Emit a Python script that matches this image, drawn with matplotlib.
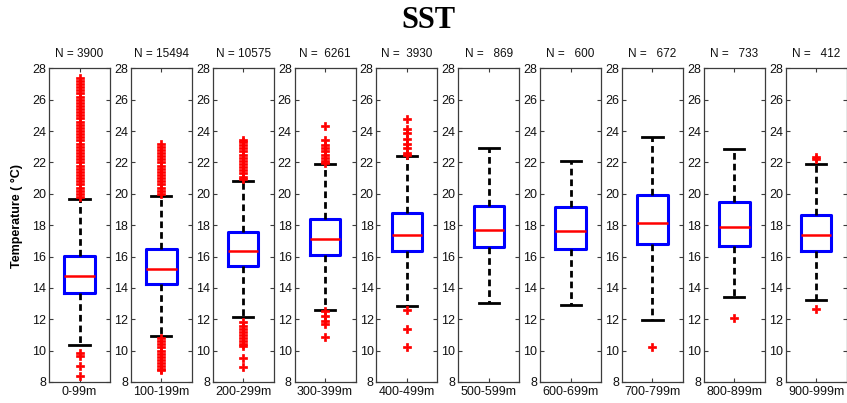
import matplotlib
matplotlib.use("Agg")
import matplotlib.pyplot as plt

plt.rcParams['font.family'] = ['Liberation Sans', 'DejaVu Sans']

# Depth bins and sample counts
depth_bins = ["0-99m", "100-199m", "200-299m", "300-399m", "400-499m",
              "500-599m", "600-699m", "700-799m", "800-899m", "900-999m"]
counts = ["3900", "15494", "10575", " 6261", " 3930", "  869", "  600", "  672", "  733", "  412"]

# Box statistics per depth bin (deg C)
medians = [14.77, 15.23, 16.38, 17.09, 17.40, 17.68, 17.64, 18.11, 17.90, 17.38]
q1 = [13.66, 14.23, 15.42, 16.10, 16.38, 16.62, 16.45, 16.77, 16.66, 16.38]
q3 = [16.05, 16.47, 17.57, 18.38, 18.79, 19.23, 19.13, 19.94, 19.49, 18.64]
whisker_low = [10.38, 10.94, 12.15, 12.62, 12.85, 13.04, 12.90, 11.98, 13.43, 13.21]
whisker_high = [19.66, 19.87, 20.83, 21.87, 22.38, 22.89, 22.06, 23.64, 22.87, 21.91]

# Outlying observations per depth bin (deg C)
outliers_0 = [19.8, 20.0, 20.2, 20.4, 20.6, 20.8, 21.0, 21.2, 21.4, 21.6, 21.8, 22.0,
              22.2, 22.4, 22.6, 22.8, 23.0, 23.2, 23.4, 23.6, 23.8, 24.0, 24.2, 24.4,
              24.6, 24.8, 25.0, 25.2, 25.4, 25.6, 25.8, 26.0, 26.2, 26.4, 26.6, 26.8,
              27.0, 27.2, 27.4, 9.85, 9.65, 9.0, 8.4]
outliers_1 = [20.0, 20.2, 20.4, 20.6, 20.8, 21.0, 21.2, 21.4, 21.6, 21.8, 22.0, 22.2,
              22.4, 22.6, 22.8, 23.0, 23.2, 10.8, 10.6, 10.4, 10.2, 10.0, 9.8, 9.6,
              9.4, 9.2, 9.0, 8.8, 8.75]
outliers_2 = [20.95, 21.1, 21.3, 21.5, 21.7, 21.9, 22.1, 22.3, 22.5, 22.7, 22.9, 23.1,
              23.3, 23.4, 11.8, 11.6, 11.4, 11.2, 11.0, 10.8, 10.6, 10.4, 10.3, 9.5, 8.95]
outliers_3 = [21.95, 22.1, 22.3, 22.5, 22.7, 22.9, 23.1, 23.4, 24.3,
              12.5, 12.2, 11.9, 11.7, 10.9]
outliers_4 = [22.5, 22.6, 22.9, 23.2, 23.5, 23.85, 24.15, 24.75, 12.6, 11.4, 10.2]
outliers_5 = []
outliers_6 = []
outliers_7 = [10.2]
outliers_8 = [12.1]
outliers_9 = [22.35, 22.2, 12.65]
outliers = [outliers_0, outliers_1, outliers_2, outliers_3, outliers_4,
            outliers_5, outliers_6, outliers_7, outliers_8, outliers_9]

y_ticks = [8, 10, 12, 14, 16, 18, 20, 22, 24, 26, 28]

W, H = 847, 403
fig = plt.figure(figsize=(W / 100, H / 100), dpi=100)

left0, step, width = 49, 81.85, 61
bottom, top = 21, 334.7
spine_color = "#3c3c3c"

for i, name in enumerate(depth_bins):
    ax = fig.add_axes([(left0 + step * i) / W, bottom / H, width / W, (top - bottom) / H])
    stats = [dict(med=medians[i], q1=q1[i], q3=q3[i],
                  whislo=whisker_low[i], whishi=whisker_high[i],
                  fliers=outliers[i], label=name)]
    ax.bxp(stats, positions=[1], widths=0.5, capwidths=0.33,
           boxprops=dict(color="#0000ff", linewidth=2.2),
           medianprops=dict(color="#ff0000", linewidth=1.8),
           whiskerprops=dict(color="black", linewidth=2.0, linestyle=(0, (2.4, 1.45))),
           capprops=dict(color="black", linewidth=2.0),
           flierprops=dict(marker="P", markersize=5.5, markerfacecolor="#ff0000",
                           markeredgecolor="#ff0000", markeredgewidth=0.5,
                           linestyle="none"))
    ax.set_xlim(0.5, 1.5)
    ax.set_ylim(8, 28)
    ax.set_yticks(y_ticks)
    ax.set_xticks([1])
    ax.set_xticklabels([name])
    ax.tick_params(axis="both", direction="in", length=3, width=0.8,
                   color=spine_color, labelsize=9, labelcolor="#111111")
    ax.tick_params(axis="y", right=True, pad=2)
    ax.tick_params(axis="x", top=True, pad=3)
    for s in ax.spines.values():
        s.set_color(spine_color)
        s.set_linewidth(0.9)
    ax.text(0.5, 1 + 14 / (top - bottom), "N = " + counts[i], transform=ax.transAxes,
            ha="center", va="center", fontsize=8.5, color="#111111")

fig.text(17 / W, 1 - 216 / H, "Temperature ( °C)", rotation=90, ha="center", va="center",
         fontsize=9, fontweight="bold")
fig.text(428 / W, 1 - 21 / H, "SST", ha="center", va="center", fontsize=22,
         fontweight="bold", family=["Liberation Serif", "DejaVu Serif"])

fig.savefig("out.png", dpi=100)
